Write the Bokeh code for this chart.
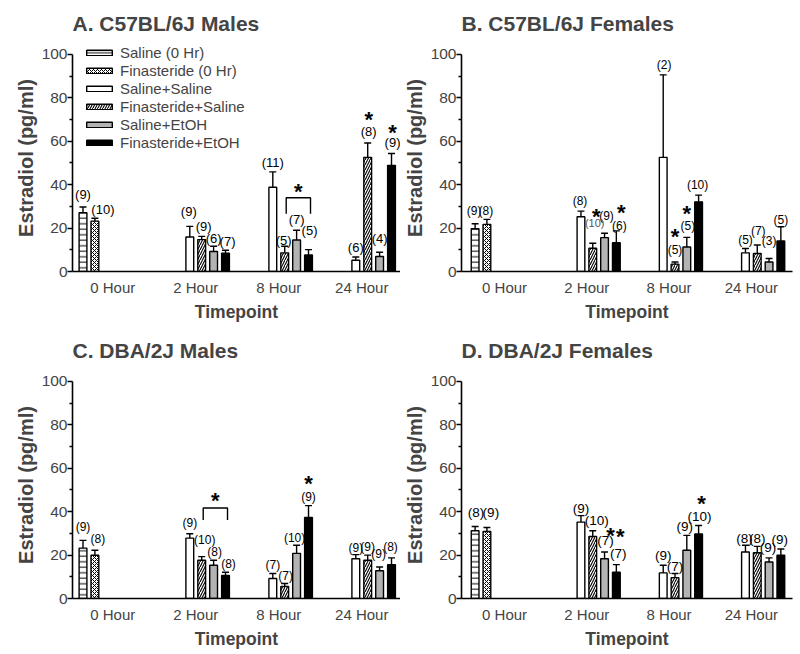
from bokeh.plotting import figure
from bokeh.layouts import column, row
from bokeh.models import ColumnDataSource, Legend, LegendItem, FixedTicker, Range1d
from bokeh.core.properties import value
from bokeh.embed import file_html
from bokeh.resources import INLINE

# ---------------- data ----------------
timepoints = ["0 Hour", "2 Hour", "8 Hour", "24 Hour"]
series = ["Saline (0 Hr)", "Finasteride (0 Hr)", "Saline+Saline",
          "Finasteride+Saline", "Saline+EtOH", "Finasteride+EtOH"]

# bar order in each panel: 0 Hour (2 groups), then 2 / 8 / 24 Hour (4 groups each)
bar_time = [0, 0, 1, 1, 1, 1, 2, 2, 2, 2, 3, 3, 3, 3]
bar_series = [0, 1, 2, 3, 4, 5, 2, 3, 4, 5, 2, 3, 4, 5]

A_mean = [27.1, 23.2, 15.9, 14.7, 9.2, 8.4, 38.8, 8.6, 14.5, 7.6, 5.2, 52.6, 6.9, 48.9]
A_sem = [2.6, 1.3, 4.9, 1.5, 2.4, 1.4, 7.1, 3.0, 4.5, 2.5, 1.5, 6.6, 2.0, 5.5]
A_n = ["(9)", "(10)", "(9)", "(9)", "(6)", "(7)", "(11)", "(5)", "(7)", "(5)", "(6)", "(8)", "(4)", "(9)"]

B_mean = [19.7, 21.7, 25.2, 10.7, 15.6, 13.3, 52.6, 3.4, 11.3, 32.1, 8.6, 8.3, 4.4, 14.1]
B_sem = [2.3, 2.3, 2.6, 2.3, 2.0, 5.4, 38.0, 1.0, 4.4, 3.1, 2.0, 3.9, 1.6, 6.5]
B_n = ["(9)", "(8)", "(8)", "(10)", "(9)", "(6)", "(2)", "(5)", "(5)", "(10)", "(5)", "(7)", "(3)", "(5)"]

C_mean = [23.2, 19.9, 27.8, 17.6, 15.3, 10.6, 9.2, 5.5, 20.8, 37.3, 18.3, 17.6, 12.8, 15.6]
C_sem = [3.6, 2.3, 2.0, 1.7, 2.3, 1.5, 2.3, 1.4, 3.7, 5.5, 1.9, 2.4, 1.7, 3.1]
C_n = ["(9)", "(8)", "(9)", "(10)", "(8)", "(8)", "(7)", "(7)", "(10)", "(9)", "(9)", "(9)", "(9)", "(8)"]

D_mean = [31.2, 30.9, 35.2, 28.6, 18.3, 12.1, 11.8, 9.6, 22.2, 29.7, 21.4, 21.1, 16.8, 19.9]
D_sem = [2.0, 1.8, 3.0, 2.6, 3.1, 3.5, 3.5, 1.9, 6.9, 3.9, 3.1, 2.9, 1.9, 2.9]
D_n = ["(8)", "(9)", "(9)", "(10)", "(7)", "(7)", "(9)", "(7)", "(9)", "(10)", "(8)", "(8)", "(9)", "(9)"]

# significance marks: bar index of each starred bar
A_star_bars = [11, 13]
B_star_bars = [3, 5, 7, 8]
C_star_bars = [9]
D_star_bars = [4, 5, 9]
# bracketed comparisons (first bar, last bar)
A_bracket_bars = (7, 9)
C_bracket_bars = (3, 5)

# ---------------- layout / style (pixels) ----------------
A_lift = [13, 9, 15, 10, 8, 9, 9, 6, 11, 19, 10, 12, 14, 11]
A_dx = [0, 8, -1, 2, 0, 2, 0, -1, 0, 1, 0, 1, 0, 1]
B_lift = [13, 8, 10, 20, 17, 5, 10, 12, 11, 10, 9, 14, 18, 7]
B_dx = [-1, -1, -1, 2, 2, 3, 1, 0, 1, -1, 0, 1, 0, 0]
C_lift = [13, 11, 11, 17, 8, 8, 9, 8, 7, 9, 7, 8, 13, 11]
C_dx = [0, 3, 0, 3, 1, 3, 0, 1, -2, 0, 0, 0, -1, -1]
D_lift = [14, 15, 7, 10, 12, 11, 10, 7, 9, 9, 7, 8, 10, 10]
D_dx = [1, 4, 0, 4, 1, 2, 0, 0, -2, 1, -1, 0, -1, -1]
A_star_style = [(16, 0), (15, 0)]
B_star_style = [(11, 1.5), (18, 2), (18, 0), (18, -1)]
C_star_style = [(18, 0)]
D_star_style = [(9, 5), (22, 2), (18, 2)]

SLOT = 0.1434
BAR_W = 0.094
PX_X = 83.0
PX_Y = 2.18
TOP_PAD = 10  # px of frame above the 100 tick
FONT = "Liberation Sans"

STYLES = [
    dict(fill_color="white", hatch_pattern="horizontal_line", hatch_scale=5.5, hatch_weight=1, hatch_color="black"),
    dict(fill_color="white", hatch_pattern="diagonal_cross", hatch_scale=4, hatch_weight=1, hatch_color="black"),
    dict(fill_color="white"),
    dict(fill_color="white", hatch_pattern="right_diagonal_line", hatch_scale=5, hatch_weight=1.1, hatch_color="black"),
    dict(fill_color="#b3b3b3"),
    dict(fill_color="black"),
]


def make_panel(title, mean, sem, n, lift, dx, star_bars, star_style, bracket,
               left, right, x_lo, fs, legend=False, special=None):
    width = 400
    frame_w = width - left - right
    x_hi = x_lo + frame_w / PX_X
    p = figure(width=width, height=327, x_range=Range1d(x_lo, x_hi),
               y_range=Range1d(0, 100 + TOP_PAD / PX_Y),
               output_backend="svg", toolbar_location=None,
               min_border_left=left, min_border_right=right, min_border_top=43, min_border_bottom=56)
    p.title.text = title
    p.title.text_font = FONT
    p.title.text_font_size = "21px"
    p.title.text_font_style = "bold"
    p.title.align = "left"
    p.title.standoff = 19
    p.outline_line_color = None
    p.xgrid.visible = False
    p.ygrid.visible = False

    xs = [t + (s - 2.5) * SLOT for t, s in zip(bar_time, bar_series)]
    upper = [m + e for m, e in zip(mean, sem)]
    cap = 3.5 / PX_X
    p.segment(x0=xs, y0=mean, x1=xs, y1=upper, line_color="black", line_width=1.4)
    p.segment(x0=[x - cap for x in xs], y0=upper, x1=[x + cap for x in xs], y1=upper,
              line_color="black", line_width=1.4)

    renderers = []
    for s, st in enumerate(STYLES):
        idx = [i for i, b in enumerate(bar_series) if b == s]
        src = ColumnDataSource(dict(x=[xs[i] for i in idx], top=[mean[i] for i in idx]))
        r = p.vbar(x="x", top="top", bottom=0, width=BAR_W, source=src,
                   line_color="black", line_width=1.4, **st)
        renderers.append(r)

    # n labels
    lx = [x + d / PX_X for x, d in zip(xs, dx)]
    ly = [u + l / PX_Y for u, l in zip(upper, lift)]
    special = special or {}
    norm = [i for i in range(len(n)) if i not in special]
    p.text(x=[lx[i] for i in norm], y=[ly[i] for i in norm], text=[n[i] for i in norm],
           text_align="center", text_baseline="middle",
           text_font=value(FONT), text_font_size=fs, text_color="black")
    for i, (c, sz) in special.items():
        p.text(x=[lx[i]], y=[ly[i]], text=[n[i]], text_align="center", text_baseline="middle",
               text_font=value(FONT), text_font_size=sz, text_color=c)

    # stars
    sx = [lx[i] + st[1] / PX_X for i, st in zip(star_bars, star_style)]
    sy = [ly[i] + (st[0] - 4.5) / PX_Y for i, st in zip(star_bars, star_style)]
    p.text(x=sx, y=sy, text=["*"] * len(sx), text_align="center", text_baseline="middle",
           text_font=value(FONT), text_font_size="22px", text_font_style="bold", text_color="black")

    if bracket is not None:
        (i0, i1), y_top, leg, star_px = bracket
        xl = xs[i0] + 1.5 / PX_X
        xr = xs[i1] + 2.0 / PX_X
        p.line(x=[xl, xl, xr, xr], y=[y_top - leg / PX_Y, y_top, y_top, y_top - leg / PX_Y],
               line_color="black", line_width=1.4)
        p.text(x=[(xl + xr) / 2], y=[y_top + (star_px - 4.5) / PX_Y], text=["*"],
               text_align="center", text_baseline="middle", text_font=value(FONT),
               text_font_size="22px", text_font_style="bold", text_color="black")

    # axes
    xa = p.xaxis[0]
    xa.ticker = FixedTicker(ticks=[0, 1, 2, 3])
    xa.major_label_overrides = {i: t for i, t in enumerate(timepoints)}
    xa.major_tick_out = 0
    xa.major_tick_in = 0
    xa.minor_tick_out = 0
    xa.minor_tick_in = 0
    xa.axis_line_width = 1.6
    xa.major_label_text_font = FONT
    xa.major_label_text_font_size = "15px"
    xa.major_label_standoff = 7
    xa.axis_label = "Timepoint"
    xa.axis_label_text_font = FONT
    xa.axis_label_text_font_size = "17.5px"
    xa.axis_label_text_font_style = "bold"
    xa.axis_label_standoff = 3

    ya = p.yaxis[0]
    ya.bounds = (0, 100)
    ya.ticker = FixedTicker(ticks=[0, 20, 40, 60, 80, 100], minor_ticks=[10, 30, 50, 70, 90])
    ya.major_tick_out = 5
    ya.major_tick_in = 0
    ya.minor_tick_out = 3
    ya.minor_tick_in = 0
    ya.axis_line_width = 1.6
    ya.major_tick_line_width = 1.4
    ya.minor_tick_line_width = 1.4
    ya.major_label_text_font = FONT
    ya.major_label_text_font_size = "15.5px"
    ya.major_label_standoff = 0
    ya.axis_label = "Estradiol (pg/ml)"
    ya.axis_label_text_font = FONT
    ya.axis_label_text_font_size = "20px"
    ya.axis_label_text_font_style = "bold"
    ya.axis_label_standoff = 2

    if legend:
        items = [LegendItem(label=series[i], renderers=[renderers[i]]) for i in range(6)]
        lg = Legend(items=items, location=(11, 120), glyph_width=32, glyph_height=7,
                    label_height=18, spacing=0, padding=0, margin=0,
                    border_line_color=None, background_fill_alpha=0,
                    label_text_font=FONT, label_text_font_size="15px", label_standoff=5)
        p.add_layout(lg)
    return p


pA = make_panel("A. C57BL/6J Males", A_mean, A_sem, A_n, A_lift, A_dx, A_star_bars, A_star_style,
                (A_bracket_bars, 34.0, 16, 11), 72, 0, -0.485, "13px", legend=True)
pB = make_panel("B. C57BL/6J  Females", B_mean, B_sem, B_n, B_lift, B_dx, B_star_bars, B_star_style,
                None, 58, 8, -0.524, "12px", special={3: ("#555555", "11px")})
pC = make_panel("C. DBA/2J Males", C_mean, C_sem, C_n, C_lift, C_dx, C_star_bars, C_star_style,
                (C_bracket_bars, 41.7, 12, 12.5), 72, 0, -0.485, "12px")
pD = make_panel("D. DBA/2J Females", D_mean, D_sem, D_n, D_lift, D_dx, D_star_bars, D_star_style,
                None, 58, 8, -0.524, "13.5px")

layout = column(row(pA, pB), row(pC, pD))
open("out.html", "w").write(file_html(layout, INLINE))
